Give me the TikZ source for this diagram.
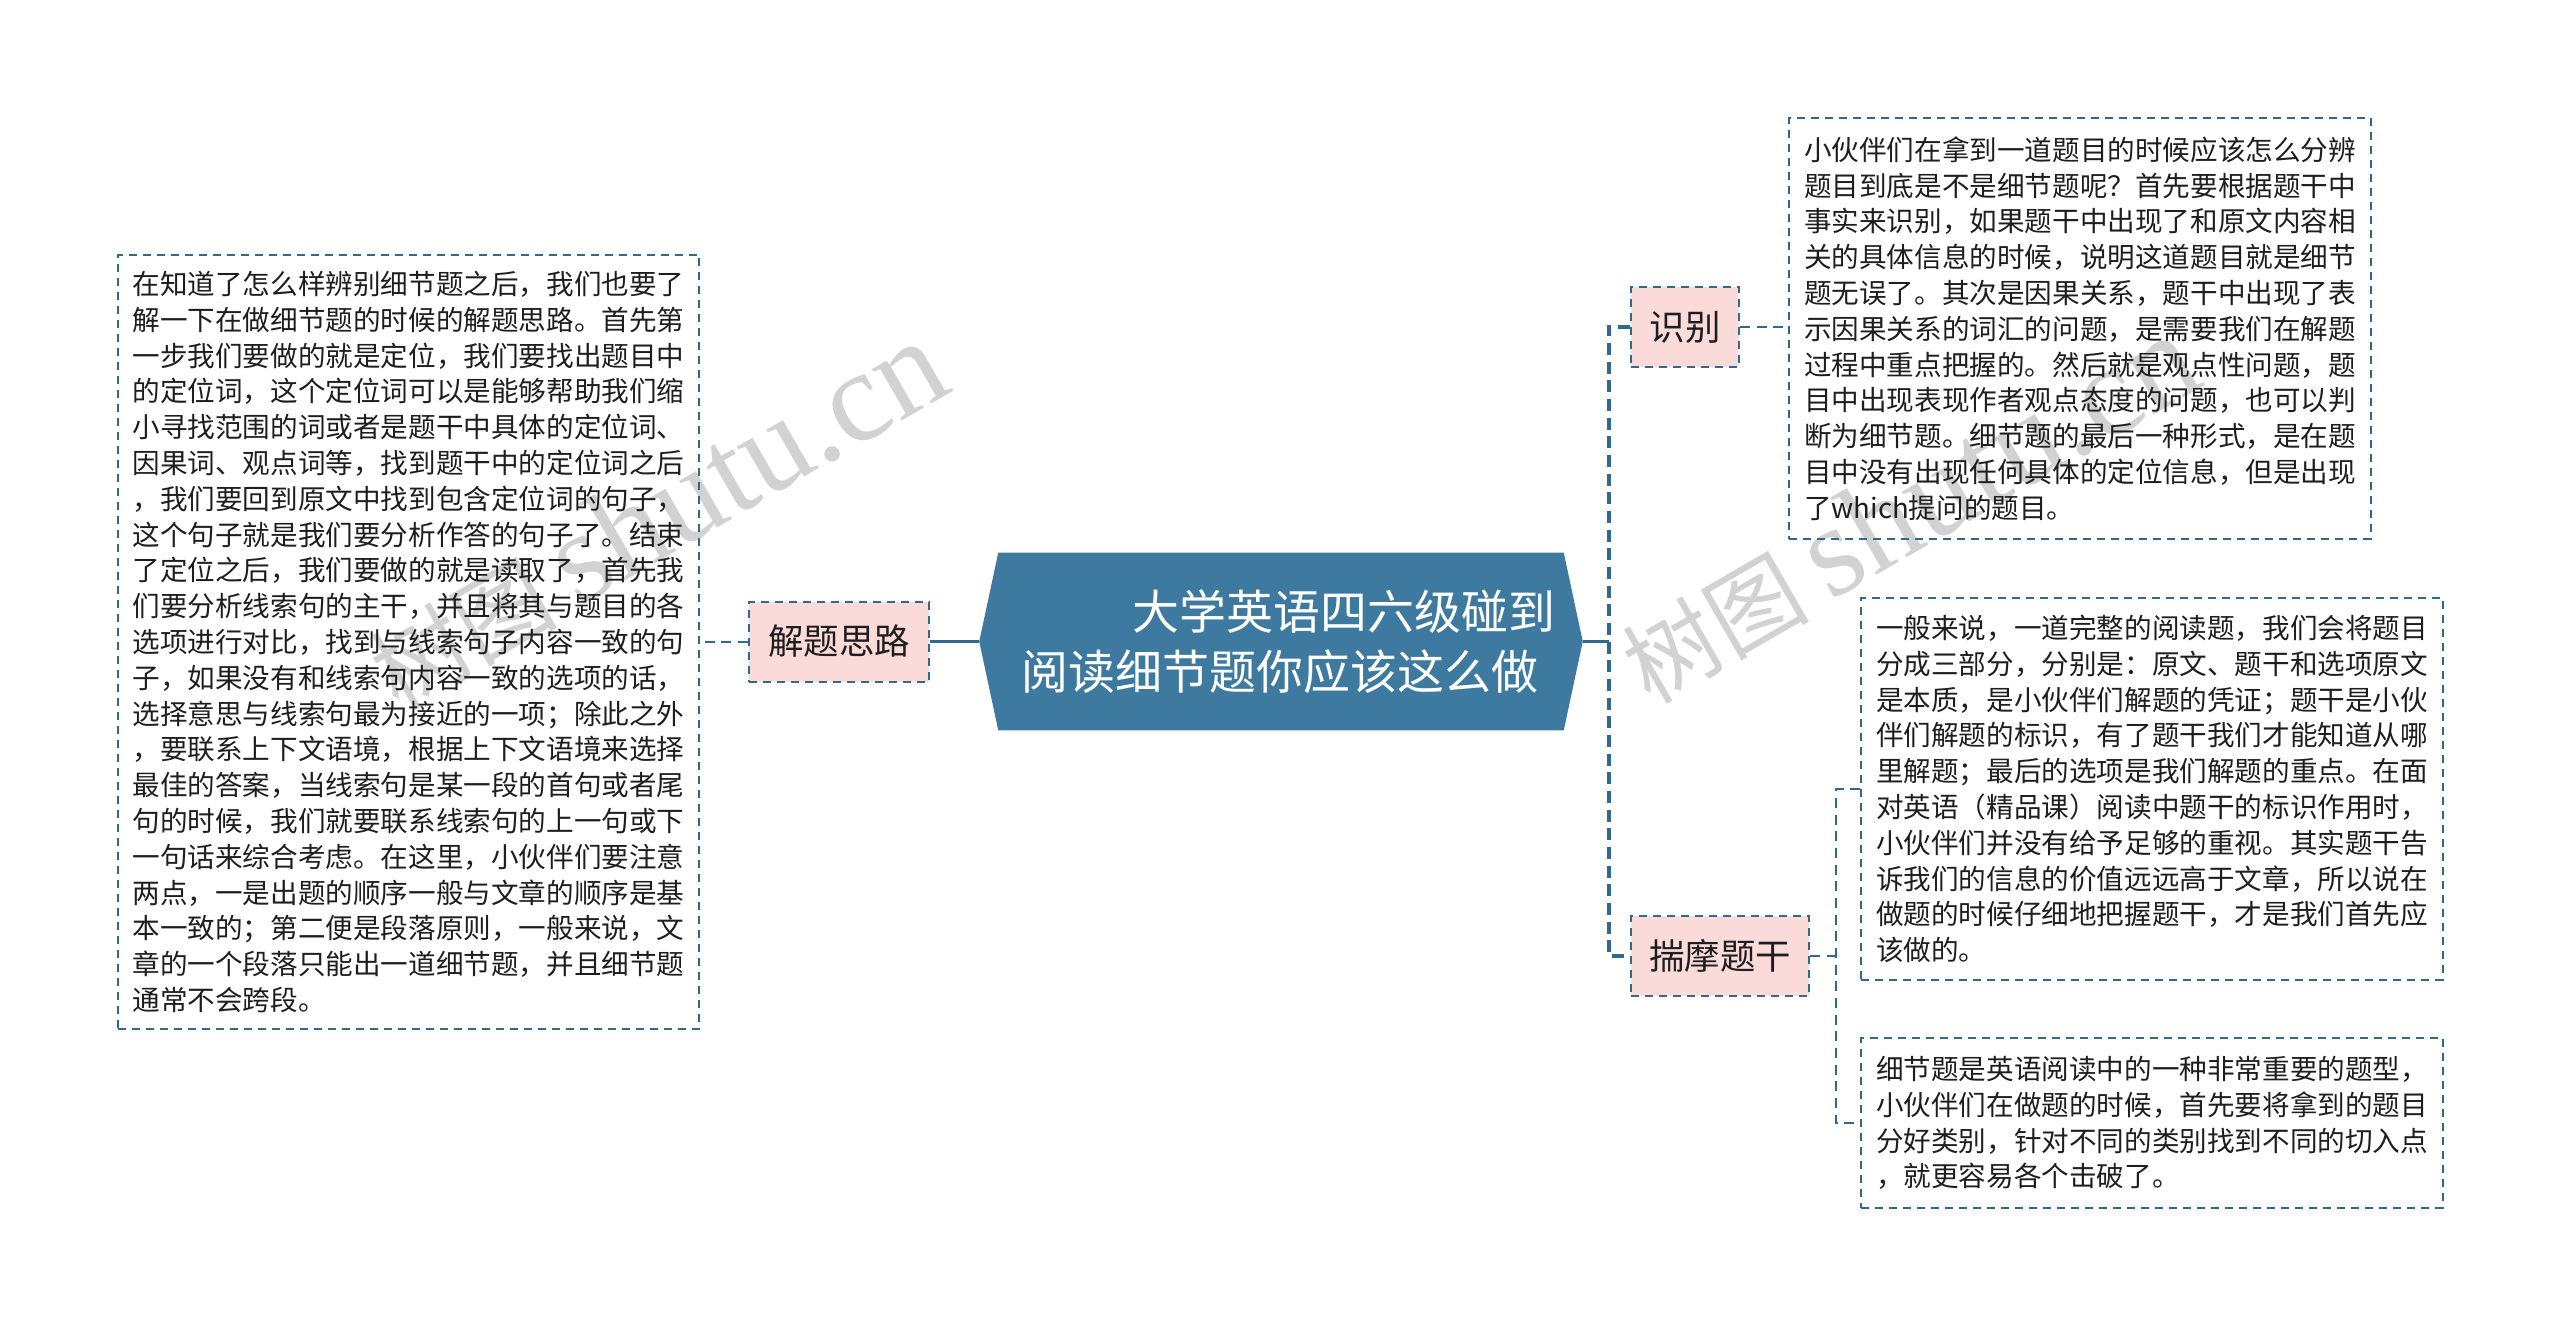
\documentclass[tikz,border=0pt]{standalone}
\usepackage{fontspec}
\setmainfont{Noto Sans CJK SC}
\newfontfamily\wmlatin{Liberation Serif}
\usetikzlibrary{backgrounds}
\definecolor{mainblue}{RGB}{62,122,160}
\definecolor{linec}{RGB}{46,105,144}
\definecolor{pinkfill}{RGB}{250,219,217}
\definecolor{wmgray}{RGB}{210,210,210}
\definecolor{txt}{RGB}{30,30,30}
\begin{document}
\begin{tikzpicture}[x=0.75pt,y={(0pt,-0.75pt)},
  txtbox/.style={draw=linec, line width=1.5pt, dash pattern=on 6pt off 4.5pt,
    align=left, inner sep=0pt, text=txt,
    font=\fontsize{20.7pt}{26.85pt}\selectfont, minimum width=436pt},
  lvlone/.style={draw=linec, fill=pinkfill, line width=1.5pt, dash pattern=on 6pt off 4.5pt,
    inner sep=0pt, text=txt, font=\fontsize{26.6pt}{32pt}\selectfont, minimum height=60pt},
  mainline/.style={draw=linec, line width=2.25pt},
  thickdash/.style={draw=linec, line width=3pt, dash pattern=on 9pt off 5pt},
  subline/.style={draw=linec, line width=1.5pt, dash pattern=on 7.5pt off 5pt},
  wm/.style={text=wmgray, inner sep=0pt, rotate=30, anchor=west}
]
\useasboundingbox (0,0) rectangle (2560,1327);

% watermarks
\node[wm] (wmA) at (378,676) {\fontsize{70pt}{70pt}\selectfont 树图 {\wmlatin\fontsize{97pt}{97pt}\selectfont shutu.cn}};
\node[wm] (wmB) at (1630,670) {\fontsize{70pt}{70pt}\selectfont 树图 {\wmlatin\fontsize{97pt}{97pt}\selectfont shutu.cn}};

% central node
\node[minimum width=423.75pt, minimum height=132.75pt, inner sep=0pt, text=white,
  align=right, text width=411pt, font=\fontsize{35.2pt}{45pt}\selectfont] (root) at (1281,641.5)
  {大学英语四六级碰到\\阅读细节题你应该这么做\kern12.75pt};
\coordinate (rootL) at ([xshift=-14.25pt]root.west);
\coordinate (rootR) at ([xshift=14.25pt]root.east);
\begin{scope}[on background layer]
\fill[white] (0,0) rectangle (2560,1327);
\fill[mainblue] (root.north west) -- (root.north east) -- (rootR) -- (root.south east)
  -- (root.south west) -- (rootL) -- cycle;
\end{scope}

% first level
\node[lvlone, minimum width=135pt] (t1) at (839,641.5) {解题思路};
\node[lvlone, minimum width=81pt] (t2) at (1685,327) {识别};
\node[lvlone, minimum width=133.5pt] (t3) at (1720,956) {揣摩题干};

% text boxes
\node[txtbox, minimum height=580.5pt] (lbox) at (408.5,642) {%
在知道了怎么样辨别细节题之后，我们也要了\\
解一下在做细节题的时候的解题思路。首先第\\
一步我们要做的就是定位，我们要找出题目中\\
的定位词，这个定位词可以是能够帮助我们缩\\
小寻找范围的词或者是题干中具体的定位词、\\
因果词、观点词等，找到题干中的定位词之后\\
，我们要回到原文中找到包含定位词的句子，\\
这个句子就是我们要分析作答的句子了。结束\\
了定位之后，我们要做的就是读取了，首先我\\
们要分析线索句的主干，并且将其与题目的各\\
选项进行对比，找到与线索句子内容一致的句\\
子，如果没有和线索句内容一致的选项的话，\\
选择意思与线索句最为接近的一项；除此之外\\
，要联系上下文语境，根据上下文语境来选择\\
最佳的答案，当线索句是某一段的首句或者尾\\
句的时候，我们就要联系线索句的上一句或下\\
一句话来综合考虑。在这里，小伙伴们要注意\\
两点，一是出题的顺序一般与文章的顺序是基\\
本一致的；第二便是段落原则，一般来说，文\\
章的一个段落只能出一道细节题，并且细节题\\
通常不会跨段。};

\node[txtbox, minimum height=315.75pt] (b1) at (2080,328.5) {%
小伙伴们在拿到一道题目的时候应该怎么分辨\\
题目到底是不是细节题呢？首先要根据题干中\\
事实来识别，如果题干中出现了和原文内容相\\
关的具体信息的时候，说明这道题目就是细节\\
题无误了。其次是因果关系，题干中出现了表\\
示因果关系的词汇的问题，是需要我们在解题\\
过程中重点把握的。然后就是观点性问题，题\\
目中出现表现作者观点态度的问题，也可以判\\
断为细节题。细节题的最后一种形式，是在题\\
目中没有出现任何具体的定位信息，但是出现\\
了which提问的题目。};

\node[txtbox, minimum height=286.5pt] (b2) at (2152,789) {%
一般来说，一道完整的阅读题，我们会将题目\\
分成三部分，分别是：原文、题干和选项原文\\
是本质，是小伙伴们解题的凭证；题干是小伙\\
伴们解题的标识，有了题干我们才能知道从哪\\
里解题；最后的选项是我们解题的重点。在面\\
对英语（精品课）阅读中题干的标识作用时，\\
小伙伴们并没有给予足够的重视。其实题干告\\
诉我们的信息的价值远远高于文章，所以说在\\
做题的时候仔细地把握题干，才是我们首先应\\
该做的。};

\node[txtbox, minimum height=127.5pt] (b3) at (2152,1123) {%
细节题是英语阅读中的一种非常重要的题型，\\
小伙伴们在做题的时候，首先要将拿到的题目\\
分好类别，针对不同的类别找到不同的切入点\\
，就更容易各个击破了。};

% connectors
\draw[mainline] (rootL) -- (t1.east);
\draw[subline] (t1.west) -- (t1.west -| lbox.east);
\coordinate (jr) at ([xshift=19.5pt]rootR);
\draw[mainline] (rootR) -- (jr);
\draw[thickdash] (t2.west) -| (jr) |- (t3.west);
\draw[subline] (t2.east) -- (t2.east -| b1.west);
\coordinate (jc) at ([xshift=19.5pt]t3.east);
\draw[subline] (t3.east) -- (jc);
\draw[subline] (b2.west) -| (jc) |- (b3.west);
\end{tikzpicture}
\end{document}
